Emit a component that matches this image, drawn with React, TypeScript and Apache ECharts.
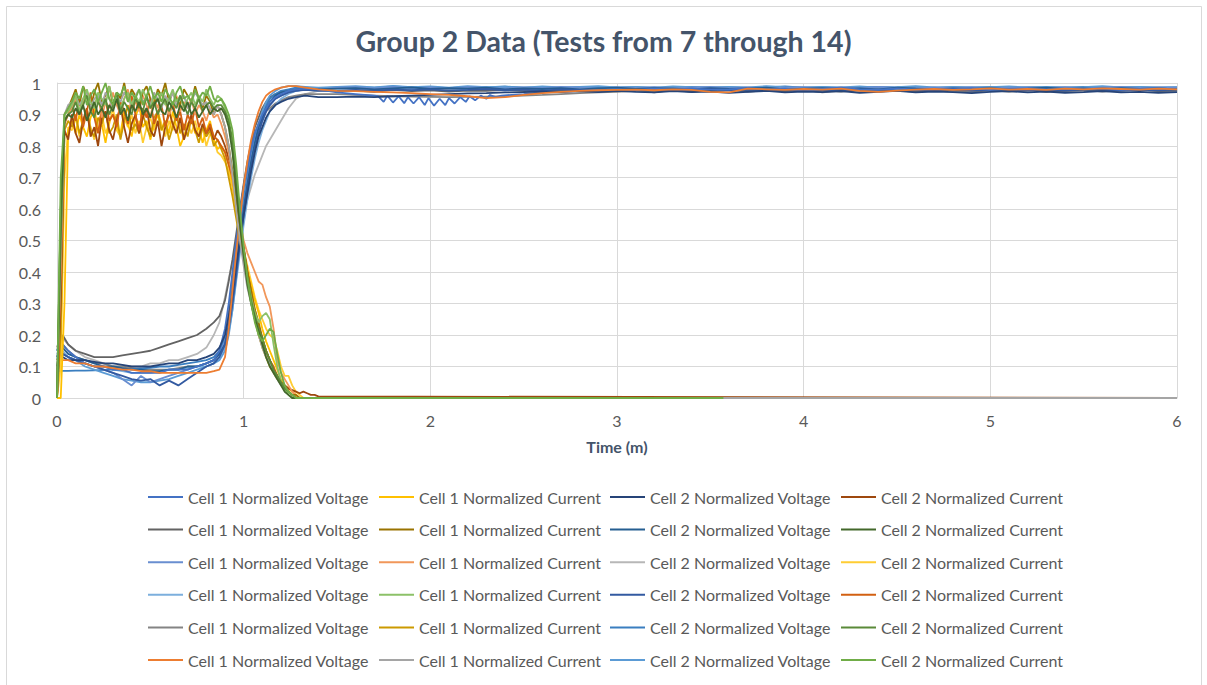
import React, { useEffect, useRef } from 'react';
import * as echarts from 'echarts';

const TITLE = 'Group 2 Data (Tests from 7 through 14)';
const X_NAME = 'Time (m)';
const X_MIN = 0, X_MAX = 6, X_STEP = 1;
const Y_MIN = 0, Y_MAX = 1, Y_STEP = 0.1;
const V1 = 'Cell 1 Normalized Voltage';
const C1 = 'Cell 1 Normalized Current';
const V2 = 'Cell 2 Normalized Voltage';
const C2 = 'Cell 2 Normalized Current';

// ---- time grids ----
const tCur = [0,.02,.04,.06,.08,.1,.12,.14,.16,.18,.2,.22,.24,.26,.28,.3,.32,.34,.36,.38,.4,.42,.44,.46,.48,.5,.52,.54,.56,.58,.6,.62,.64,.66,.68,.7,.72,.74,.76,.78,.8,.82,.84,.86,.88,.9,.92,.94,.96,.98,1,1.02,1.04,1.06,1.08,1.1,1.12,1.14,1.16,1.18,1.2,1.22,1.24,1.26,1.28,1.3,1.32,1.34,1.36,1.38,1.4];
const tV = [0,.01,.03,.06,.1,.15,.2,.25,.3,.35,.4,.45,.5,.55,.6,.65,.7,.75,.8,.84,.87,.9,.92,.94,.96,.98,1,1.02,1.04,1.06,1.08,1.1,1.12,1.14,1.17,1.2,1.24,1.28,1.33,1.4];
const tTail = [1.5,1.6,1.7,1.8,1.9,2,2.1,2.2,2.3,2.4,2.5,2.6,2.7,2.8,2.9,3,3.1,3.2,3.3,3.4,3.5,3.6,3.7,3.8,3.9,4,4.1,4.2,4.3,4.4,4.5,4.6,4.7,4.8,4.9,5,5.1,5.2,5.3,5.4,5.5,5.6,5.7,5.8,5.9,6];
const tWave = [1.5,1.6,1.7,1.72,1.75,1.77,1.8,1.83,1.86,1.88,1.91,1.94,1.97,1.99,2.02,2.05,2.08,2.1,2.13,2.16,2.19,2.21,2.24,2.27,2.3,2.32,2.35,2.38,2.5,2.6,2.7,2.8,2.9,3,3.1,3.2,3.3,3.4,3.5,3.6,3.7,3.8,3.9,4,4.1,4.2,4.3,4.4,4.5,4.6,4.7,4.8,4.9,5,5.1,5.2,5.3,5.4,5.5,5.6,5.7,5.8,5.9,6];

// ---- currents (values at tCur) ----
const c1a = [0,0,.3,.85,.88,.84,.9,.86,.83,.89,.92,.85,.87,.81,.88,.9,.86,.84,.91,.87,.83,.89,.93,.86,.88,.82,.87,.9,.85,.88,.84,.91,.86,.8,.83,.87,.89,.84,.86,.81,.85,.88,.82,.79,.8,.78,.74,.68,.6,.52,.45,.4,.36,.31,.27,.22,.18,.15,.12,.09,.06,.04,.03,.02,.01,0,0,0,0,0,0];
const c1b = [0,.5,.9,.92,.95,.98,.93,.99,.96,.92,.97,1,.94,.96,.99,.93,.97,.95,1,.94,.98,.96,.92,.97,.99,.95,.93,.98,.96,1,.94,.97,.95,.93,.98,.96,.94,.99,.95,.92,.96,.94,.9,.93,.9,.86,.8,.72,.63,.55,.47,.4,.34,.28,.24,.19,.15,.12,.09,.07,.05,.03,.02,.01,.01,0,0,0,0,0,0];
const c1c = [0,.4,.88,.9,.92,.95,.9,.94,.97,.91,.93,.96,.89,.94,.92,.97,.93,.9,.95,.98,.92,.94,.91,.96,.93,.89,.95,.92,.97,.94,.9,.93,.96,.91,.94,.92,.95,.9,.93,.91,.88,.92,.89,.9,.87,.83,.78,.7,.62,.56,.5,.46,.43,.4,.37,.36,.32,.29,.22,.12,.08,.06,.04,.02,.01,0,0,0,0,0,0];
const c1d = [0,.6,.9,.91,.93,.96,.91,.95,.98,.94,.92,.97,.95,.93,.99,.94,.96,.92,.95,.97,.93,.96,.94,.98,.95,.92,.96,.94,.97,.93,.95,.98,.94,.96,.92,.95,.97,.93,.96,.94,.98,.95,.93,.96,.95,.92,.88,.8,.68,.56,.46,.38,.32,.27,.24,.26,.27,.25,.17,.1,.05,.03,.01,0,0,0,0,0,0,0,0];
const c1e = [0,.2,.85,.88,.86,.9,.84,.88,.92,.85,.83,.89,.87,.91,.84,.86,.9,.82,.88,.93,.85,.87,.84,.9,.86,.83,.89,.91,.85,.88,.82,.86,.9,.84,.87,.83,.89,.85,.81,.86,.83,.85,.8,.82,.79,.76,.7,.64,.57,.5,.44,.37,.31,.25,.2,.16,.13,.1,.08,.06,.05,.03,.02,.01,0,0,0,0,0,0,0];
const c1f = [0,.5,.9,.93,.94,.96,.93,.95,.97,.92,.95,.96,.93,.97,.95,.92,.96,.94,.97,.95,.93,.96,.98,.94,.95,.93,.97,.95,.92,.96,.94,.97,.93,.95,.96,.92,.94,.97,.95,.93,.94,.92,.9,.93,.9,.86,.8,.71,.6,.5,.42,.35,.3,.25,.2,.16,.13,.11,.08,.06,.04,.03,.02,.01,0,0,0,0,0,0,0];
const c2a = [0,.3,.85,.82,.9,.84,.81,.88,.92,.83,.86,.8,.89,.91,.85,.82,.88,.93,.86,.81,.87,.9,.84,.89,.92,.85,.83,.88,.8,.86,.91,.87,.84,.89,.82,.86,.9,.85,.83,.87,.84,.86,.82,.85,.83,.8,.76,.72,.64,.56,.48,.4,.33,.27,.22,.18,.15,.12,.09,.07,.05,.04,.03,.025,.02,.015,.02,.015,.01,.01,.005];
const c2b = [0,.6,.88,.9,.89,.92,.9,.93,.88,.91,.94,.9,.92,.89,.93,.91,.95,.9,.92,.88,.93,.91,.94,.9,.92,.89,.93,.95,.91,.9,.94,.92,.89,.93,.91,.94,.9,.92,.89,.91,.93,.9,.92,.91,.92,.9,.86,.78,.66,.55,.45,.36,.3,.25,.21,.17,.13,.1,.08,.06,.04,.02,.01,0,0,0,0,0,0,0,0];
const c2c = [0,.1,.7,.86,.85,.89,.83,.87,.91,.86,.82,.88,.9,.84,.87,.92,.85,.83,.89,.86,.9,.84,.88,.81,.86,.89,.85,.91,.87,.83,.88,.85,.9,.86,.82,.87,.84,.88,.83,.86,.8,.84,.82,.78,.77,.75,.72,.67,.6,.53,.47,.42,.37,.32,.28,.25,.22,.2,.19,.15,.1,.07,.07,.04,.02,.01,0,0,0,0,0];
const c2d = [0,.5,.87,.9,.93,.88,.95,.86,.91,.97,.89,.84,.92,.95,.88,.9,.86,.94,.91,.87,.96,.9,.85,.92,.89,.95,.87,.91,.93,.86,.9,.94,.88,.91,.85,.9,.87,.92,.86,.89,.84,.87,.83,.82,.8,.78,.74,.7,.62,.54,.47,.4,.34,.28,.23,.19,.15,.12,.1,.07,.05,.03,.02,.01,0,0,0,0,0,0,0];
const c2e = [0,.5,.88,.9,.91,.94,.9,.93,.96,.91,.89,.94,.92,.95,.9,.93,.97,.91,.94,.92,.9,.95,.93,.91,.96,.92,.94,.9,.93,.95,.91,.94,.92,.96,.93,.9,.94,.92,.95,.91,.93,.94,.92,.93,.93,.91,.88,.82,.7,.58,.47,.38,.31,.26,.22,.19,.15,.12,.09,.07,.05,.03,.02,.01,0,0,0,0,0,0,0];
const c2f = [0,.7,.9,.92,.94,.97,.95,.99,.93,.96,.98,.94,.97,1,.95,.93,.97,.96,.99,.94,.97,.95,.98,.93,.96,.99,.95,.97,.94,.98,.96,.93,.97,.99,.95,.96,.94,.98,.95,.97,.96,.99,.95,.94,.95,.93,.9,.85,.74,.6,.48,.38,.3,.24,.2,.18,.2,.22,.21,.14,.08,.04,.02,.01,0,0,0,0,0,0,0];
// time at which each current trace ends (value 0)
const c1aEnd = 6, c1bEnd = 6, c1cEnd = 6, c1dEnd = 3.0, c1eEnd = 6, c1fEnd = 6;
const c2aEnd = 6, c2bEnd = 3.45, c2cEnd = 6, c2dEnd = 6, c2eEnd = 3.3, c2fEnd = 3.57;

// ---- voltages: head at tV, tail at tTail (v1a at tWave) ----
const v1aHead = [0,.1,.17,.15,.13,.11,.1,.1,.09,.09,.08,.08,.08,.08,.09,.09,.09,.1,.11,.12,.15,.22,.3,.4,.5,.59,.67,.73,.79,.84,.87,.9,.92,.94,.955,.965,.975,.98,.982,.98];
const v1aTail = [.97,.965,.96,.958,.94,.96,.938,.958,.936,.955,.935,.955,.93,.952,.928,.95,.93,.952,.935,.955,.94,.958,.945,.96,.95,.962,.955,.96,.965,.97,.972,.975,.978,.98,.977,.982,.979,.983,.978,.98,.984,.979,.982,.977,.981,.985,.98,.978,.983,.979,.982,.98,.984,.978,.981,.983,.979,.982,.98,.984,.978,.981,.983,.98];
const v1bHead = [0,.12,.2,.17,.15,.14,.13,.13,.13,.135,.14,.145,.15,.16,.17,.18,.19,.2,.22,.24,.26,.31,.37,.44,.52,.6,.68,.75,.81,.86,.89,.92,.94,.955,.965,.97,.975,.978,.98,.98];
const v1bTail = [.975,.976,.972,.978,.974,.977,.973,.976,.975,.978,.974,.977,.975,.979,.976,.974,.978,.975,.977,.973,.976,.979,.975,.977,.974,.978,.976,.973,.977,.975,.979,.974,.976,.978,.975,.977,.973,.976,.978,.975,.977,.974,.976,.979,.975,.977];
const v1cHead = [.14,.15,.14,.13,.12,.11,.1,.09,.08,.06,.04,.07,.05,.06,.07,.08,.09,.1,.11,.12,.14,.18,.24,.32,.42,.52,.61,.69,.76,.81,.85,.88,.91,.93,.95,.96,.97,.975,.98,.978];
const v1cTail = [.985,.987,.983,.988,.984,.986,.982,.987,.985,.983,.986,.984,.988,.985,.982,.986,.984,.987,.983,.985,.988,.984,.986,.982,.985,.987,.983,.986,.984,.988,.985,.983,.986,.984,.987,.983,.985,.986,.984,.987,.983,.985,.988,.984,.986,.985];
const v1dHead = [.12,.16,.15,.13,.12,.11,.1,.1,.09,.085,.08,.08,.08,.085,.09,.09,.095,.1,.1,.11,.13,.16,.21,.28,.37,.46,.55,.63,.7,.76,.81,.85,.88,.91,.93,.95,.965,.975,.98,.982];
const v1dTail = [.982,.985,.98,.984,.981,.986,.983,.98,.985,.982,.984,.98,.983,.986,.981,.984,.982,.985,.98,.983,.986,.982,.984,.981,.985,.983,.98,.984,.982,.986,.981,.983,.985,.98,.984,.982,.986,.983,.981,.985,.982,.984,.98,.983,.985,.982];
const v1eHead = [.16,.18,.17,.15,.13,.12,.11,.11,.1,.1,.095,.09,.09,.09,.09,.095,.1,.1,.11,.12,.14,.19,.27,.37,.48,.58,.67,.74,.8,.84,.87,.89,.91,.92,.935,.945,.955,.96,.965,.965];
const v1eTail = [.965,.962,.96,.958,.957,.956,.955,.956,.957,.958,.96,.962,.965,.968,.97,.972,.975,.97,.978,.973,.976,.98,.972,.977,.974,.979,.97,.976,.981,.973,.977,.972,.979,.975,.97,.978,.974,.98,.971,.976,.978,.973,.977,.98,.974,.976];
const v1fHead = [.12,.13,.12,.12,.11,.11,.1,.1,.095,.09,.09,.085,.085,.08,.08,.08,.08,.08,.08,.085,.09,.13,.22,.34,.46,.57,.67,.75,.82,.87,.91,.94,.96,.97,.98,.985,.99,.99,.985,.98];
const v1fTail = [.975,.974,.972,.97,.968,.965,.962,.958,.952,.955,.962,.968,.972,.975,.977,.978,.979,.977,.98,.978,.972,.97,.982,.98,.978,.981,.979,.982,.975,.972,.976,.979,.981,.978,.98,.983,.979,.981,.978,.982,.98,.983,.981,.979,.982,.98];
const v2aHead = [.1,.14,.13,.12,.12,.12,.115,.11,.11,.105,.1,.1,.1,.105,.11,.11,.12,.12,.13,.14,.16,.2,.26,.33,.42,.5,.58,.65,.72,.78,.83,.86,.89,.91,.93,.94,.95,.955,.96,.955];
const v2aTail = [.955,.957,.955,.958,.96,.962,.965,.967,.968,.97,.971,.973,.972,.974,.971,.975,.972,.97,.974,.971,.973,.969,.972,.975,.97,.973,.971,.974,.969,.972,.975,.97,.973,.971,.968,.972,.974,.97,.973,.969,.971,.974,.97,.972,.969,.971];
const v2bHead = [.15,.17,.16,.14,.13,.12,.11,.1,.1,.095,.09,.09,.085,.085,.09,.09,.1,.1,.11,.12,.14,.17,.23,.31,.41,.51,.6,.68,.75,.81,.86,.89,.92,.94,.96,.97,.975,.98,.982,.98];
const v2bTail = [.982,.984,.98,.983,.986,.981,.984,.982,.985,.98,.983,.981,.984,.98,.983,.985,.981,.984,.982,.98,.984,.981,.983,.985,.98,.982,.984,.981,.983,.98,.985,.982,.98,.983,.981,.984,.98,.982,.985,.981,.983,.98,.984,.981,.983,.98];
const v2cHead = [.08,.14,.19,.17,.15,.13,.12,.11,.1,.1,.1,.1,.11,.11,.12,.12,.13,.14,.16,.2,.24,.32,.38,.43,.48,.53,.58,.63,.67,.71,.74,.77,.8,.82,.85,.88,.92,.95,.965,.975];
const v2cTail = [.975,.977,.978,.98,.979,.981,.98,.982,.979,.981,.978,.98,.983,.979,.981,.984,.978,.982,.98,.984,.977,.981,.983,.978,.98,.976,.982,.979,.983,.977,.981,.979,.984,.976,.98,.982,.978,.981,.977,.983,.979,.981,.984,.978,.98,.982];
const v2dHead = [.13,.15,.14,.13,.12,.11,.1,.09,.08,.07,.06,.055,.06,.04,.055,.04,.06,.08,.1,.11,.13,.17,.22,.3,.39,.49,.58,.66,.73,.79,.84,.88,.91,.93,.95,.96,.97,.975,.978,.975];
const v2dTail = [.975,.978,.976,.979,.977,.98,.976,.978,.981,.977,.979,.976,.98,.978,.975,.979,.977,.98,.976,.978,.981,.977,.979,.976,.98,.977,.979,.975,.978,.98,.976,.979,.977,.981,.976,.978,.98,.977,.979,.976,.98,.978,.976,.979,.977,.98];
const v2eHead = [.085,.085,.086,.086,.087,.087,.088,.089,.09,.09,.092,.094,.096,.1,.1,.105,.11,.115,.12,.13,.15,.19,.25,.34,.44,.54,.63,.71,.78,.83,.87,.9,.93,.95,.965,.975,.98,.985,.985,.983];
const v2eTail = [.986,.988,.985,.989,.986,.987,.984,.988,.986,.989,.985,.987,.984,.986,.988,.985,.987,.984,.986,.988,.985,.987,.984,.986,.989,.985,.987,.984,.986,.988,.985,.986,.984,.987,.985,.988,.984,.986,.987,.985,.988,.984,.986,.987,.985,.986];
const v2fHead = [.09,.12,.14,.13,.12,.1,.09,.08,.07,.06,.055,.05,.05,.055,.06,.07,.08,.09,.1,.11,.12,.15,.2,.28,.38,.48,.58,.67,.75,.82,.87,.91,.94,.96,.975,.985,.99,.99,.988,.985];
const v2fTail = [.988,.99,.986,.991,.987,.989,.985,.99,.987,.988,.985,.989,.986,.988,.99,.986,.988,.985,.989,.987,.985,.988,.986,.99,.987,.985,.988,.986,.989,.985,.987,.99,.986,.988,.985,.987,.989,.986,.988,.985,.987,.99,.986,.988,.985,.987];

type Def = { id: string; label: string; color: string; data: number[][] };

const pairs = (ts: number[], vs: number[]) => vs.slice(0, ts.length).map((v, i) => [ts[i], v]);
const volt = (id: string, label: string, color: string, head: number[], tail: number[], tt: number[]): Def =>
  ({ id, label, color, data: pairs(tV, head).concat(pairs(tt, tail)) });
const curr = (id: string, label: string, color: string, vals: number[], end: number): Def =>
  ({ id, label, color, data: pairs(tCur, vals).concat([[end, 0]]) });

// drawing order (first = bottom)
const DEFS: Def[] = [
  volt('v2c', V2, '#B7B7B7', v2cHead, v2cTail, tTail),
  volt('v1e', V1, '#848484', v1eHead, v1eTail, tTail),
  volt('v1b', V1, '#636363', v1bHead, v1bTail, tTail),
  volt('v1d', V1, '#7CAFDD', v1dHead, v1dTail, tTail),
  volt('v2e', V2, '#3A7EC0', v2eHead, v2eTail, tTail),
  volt('v2f', V2, '#5B9BD5', v2fHead, v2fTail, tTail),
  volt('v1c', V1, '#698ED0', v1cHead, v1cTail, tTail),
  volt('v2b', V2, '#255E91', v2bHead, v2bTail, tTail),
  volt('v2d', V2, '#335AA1', v2dHead, v2dTail, tTail),
  volt('v1a', V1, '#4472C4', v1aHead, v1aTail, tWave),
  volt('v2a', V2, '#264478', v2aHead, v2aTail, tTail),
  volt('v1f', V1, '#ED7D31', v1fHead, v1fTail, tTail),
  curr('c2c', C2, '#FFCD33', c2c, c2cEnd),
  curr('c1a', C1, '#FFC000', c1a, c1aEnd),
  curr('c1e', C1, '#CC9A00', c1e, c1eEnd),
  curr('c2a', C2, '#9E480E', c2a, c2aEnd),
  curr('c2d', C2, '#D26012', c2d, c2dEnd),
  curr('c1c', C1, '#F1975A', c1c, c1cEnd),
  curr('c1b', C1, '#997300', c1b, c1bEnd),
  curr('c1f', C1, '#A5A5A5', c1f, c1fEnd),
  curr('c1d', C1, '#8CC168', c1d, c1dEnd),
  curr('c2e', C2, '#5A8A39', c2e, c2eEnd),
  curr('c2b', C2, '#43682B', c2b, c2bEnd),
  curr('c2f', C2, '#70AD47', c2f, c2fEnd),
];

const LEGEND_ROWS = [
  ['v1a', 'c1a', 'v2a', 'c2a'],
  ['v1b', 'c1b', 'v2b', 'c2b'],
  ['v1c', 'c1c', 'v2c', 'c2c'],
  ['v1d', 'c1d', 'v2d', 'c2d'],
  ['v1e', 'c1e', 'v2e', 'c2e'],
  ['v1f', 'c1f', 'v2f', 'c2f'],
];

const FONT = 'Lato, "Noto Sans", sans-serif';
const TEXT = '#595959';
const GRIDC = '#D9D9D9';

export default function App() {
  const ref = useRef<HTMLDivElement>(null);
  useEffect(() => {
    if (!ref.current) return;
    const chart = echarts.init(ref.current, undefined, { renderer: 'svg' });
    const labelOf: Record<string, string> = {};
    DEFS.forEach((d) => { labelOf[d.id] = d.label; });
    const option: any = {
      animation: false,
      backgroundColor: '#ffffff',
      title: {
        text: TITLE,
        left: 'center',
        top: 25,
        padding: 0,
        textStyle: { fontFamily: FONT, fontSize: 28.5, fontWeight: 'bold', color: '#44546A', lineHeight: 32 },
      },
      graphic: [
        { type: 'rect', silent: true, z: -10, shape: { x: 6.5, y: 6.5, width: 1195, height: 700 }, style: { fill: 'none', stroke: GRIDC, lineWidth: 1 } },
      ],
      grid: { left: 57, top: 83, width: 1120, height: 315 },
      xAxis: {
        type: 'value', min: X_MIN, max: X_MAX, interval: X_STEP,
        name: X_NAME, nameLocation: 'middle', nameGap: 40,
        nameTextStyle: { fontFamily: FONT, fontSize: 16, fontWeight: 'bold', color: '#44546A' },
        axisLine: { show: true, lineStyle: { color: GRIDC, width: 1 } },
        axisTick: { show: false },
        axisLabel: { margin: 14, fontFamily: FONT, fontSize: 16, color: TEXT },
        splitLine: { show: true, lineStyle: { color: GRIDC, width: 1 } },
      },
      yAxis: {
        type: 'value', min: Y_MIN, max: Y_MAX, interval: Y_STEP,
        axisLine: { show: true, lineStyle: { color: GRIDC, width: 1 } },
        axisTick: { show: false },
        axisLabel: { margin: 16, fontFamily: FONT, fontSize: 16, color: TEXT },
        splitLine: { show: true, lineStyle: { color: GRIDC, width: 1 } },
      },
      legend: LEGEND_ROWS.map((row, r) => ({
        data: row,
        orient: 'horizontal',
        left: 148,
        top: 487 + r * 32.6,
        padding: 0,
        icon: 'rect',
        itemWidth: 35,
        itemHeight: 2,
        itemGap: 5,
        selectedMode: false,
        formatter: (n: string) => labelOf[n],
        textStyle: { fontFamily: FONT, fontSize: 16, color: TEXT, width: 186, lineHeight: 20 },
      })),
      series: DEFS.map((d) => ({
        type: 'line',
        name: d.id,
        data: d.data,
        symbol: 'none',
        showSymbol: false,
        smooth: false,
        color: d.color,
        itemStyle: { color: d.color },
        lineStyle: { color: d.color, width: 1.8 },
        emphasis: { disabled: true },
      })),
    };
    chart.setOption(option);
    return () => chart.dispose();
  }, []);
  return <div ref={ref} style={{ position: 'fixed', left: 0, top: 0, width: 1207, height: 685 }} />;
}
